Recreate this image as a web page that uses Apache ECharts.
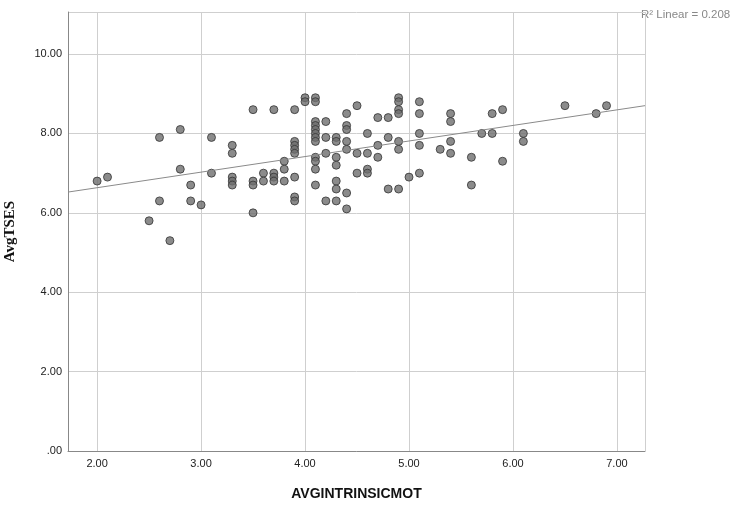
<!DOCTYPE html>
<html>
<head>
<meta charset="utf-8">
<script src="https://cdn.jsdelivr.net/npm/echarts@6/dist/echarts.min.js"></script>
<style>
  html, body { margin: 0; padding: 0; background: #fff; }
  #chart { width: 734px; height: 508px; }
</style>
</head>
<body>
<div id="chart"></div>
<script>
// AVGINTRINSICMOT values, each with the AvgTSES values seen in that column
var xValues = [2.0, 2.1, 2.5, 2.6, 2.7, 2.8, 2.9, 3.0, 3.1, 3.3, 3.5, 3.6, 3.7, 3.8, 3.9,
    4.0, 4.1, 4.2, 4.3, 4.4, 4.5, 4.6, 4.7, 4.8, 4.9, 5.0, 5.1, 5.3, 5.4, 5.6, 5.7, 5.8,
    5.9, 6.1, 6.5, 6.8, 6.9]
var yColumns = [
    [6.8],
    [6.9],
    [5.8],
    [7.9, 6.3],
    [5.3],
    [8.1, 7.1],
    [6.7, 6.3],
    [6.2],
    [7.9, 7.0],
    [7.7, 7.5, 6.9, 6.8, 6.7],
    [8.6, 6.8, 6.7, 6.0],
    [7.0, 6.8],
    [8.6, 7.0, 6.9, 6.8],
    [7.3, 7.1, 6.8],
    [8.6, 7.8, 7.7, 7.6, 7.5, 6.9, 6.4, 6.3],
    [8.9, 8.8],
    [8.9, 8.8, 8.3, 8.2, 8.1, 8.0, 7.9, 7.8, 7.4, 7.3, 7.1, 6.7],
    [8.3, 7.9, 7.5, 6.3],
    [7.9, 7.8, 7.4, 7.2, 6.8, 6.6, 6.3],
    [8.5, 8.2, 8.1, 7.8, 7.6, 6.5, 6.1],
    [8.7, 7.5, 7.0],
    [8.0, 7.5, 7.1, 7.0],
    [8.4, 7.7, 7.4],
    [8.4, 7.9, 6.6],
    [8.9, 8.8, 8.6, 8.5, 7.8, 7.6, 6.6],
    [6.9],
    [8.8, 8.5, 8.0, 7.7, 7.0],
    [7.6],
    [8.5, 8.3, 7.8, 7.5],
    [7.4, 6.7],
    [8.0],
    [8.5, 8.0],
    [8.6, 7.3],
    [8.0, 7.8],
    [8.7],
    [8.5],
    [8.7]
]
var xMin = 1.72
var xMax = 7.27
var yMin = 0
var yMax = 11.06

var points = []
xValues.forEach(function (x, i) {
    yColumns[i].forEach(function (y) {
        points.push([x, y])
    })
})

// least squares fit line
var n = points.length, sx = 0, sy = 0, sxx = 0, sxy = 0
points.forEach(function (p) {
    sx += p[0]; sy += p[1]; sxx += p[0] * p[0]; sxy += p[0] * p[1]
})
var slope = (n * sxy - sx * sy) / (n * sxx - sx * sx)
var intercept = (sy - slope * sx) / n
var fitLine = [[xMin, intercept + slope * xMin], [xMax, intercept + slope * xMax]]

var chart = echarts.init(document.getElementById('chart'), null, {renderer: 'canvas'})

var option = {
    animation: false,
    grid: {left: 68, right: 89, top: 12, bottom: 57, outerBoundsMode: 'none'},
    xAxis: {
        type: 'value',
        min: xMin,
        max: xMax,
        splitNumber: 5,
        name: 'AVGINTRINSICMOT',
        nameLocation: 'middle',
        nameGap: 36,
        nameTextStyle: {fontFamily: 'Liberation Sans', fontWeight: 'bold', fontSize: 14, color: '#111'},
        axisLine: {show: true, lineStyle: {color: '#888', width: 1}},
        axisTick: {show: false},
        axisLabel: {
            fontFamily: 'Liberation Sans', fontSize: 11, color: '#222', margin: 7,
            showMinLabel: false, showMaxLabel: false,
            formatter: function (v) { return v.toFixed(2) }
        },
        splitLine: {show: true, lineStyle: {color: '#cfcfcf', width: 1}}
    },
    yAxis: {
        type: 'value',
        min: yMin,
        max: yMax,
        interval: 2,
        name: 'AvgTSES',
        nameLocation: 'middle',
        nameGap: 50,
        nameTextStyle: {fontFamily: 'Liberation Serif', fontWeight: 'bold', fontSize: 15, color: '#111'},
        axisLine: {show: true, lineStyle: {color: '#888', width: 1}},
        axisTick: {show: false},
        axisLabel: {
            fontFamily: 'Liberation Sans', fontSize: 11, color: '#222', margin: 6,
            showMaxLabel: false,
            formatter: function (v) { return v === 0 ? '.00' : v.toFixed(2) }
        },
        splitLine: {show: true, lineStyle: {color: '#cfcfcf', width: 1}}
    },
    graphic: [{
        type: 'text',
        left: 641,
        top: 9,
        style: {text: 'R\u00b2 Linear = 0.208', fontFamily: 'Liberation Sans', fontSize: 11.5, fill: '#888'}
    }],
    series: [{
        type: 'line',
        data: fitLine,
        symbol: 'none',
        silent: true,
        lineStyle: {color: '#8a8a8a', width: 1}
    }, {
        type: 'scatter',
        data: points,
        symbolSize: 8,
        itemStyle: {color: '#6e6e6e', borderColor: '#333', borderWidth: 1}
    }]
}

chart.setOption(option)
</script>
</body>
</html>
